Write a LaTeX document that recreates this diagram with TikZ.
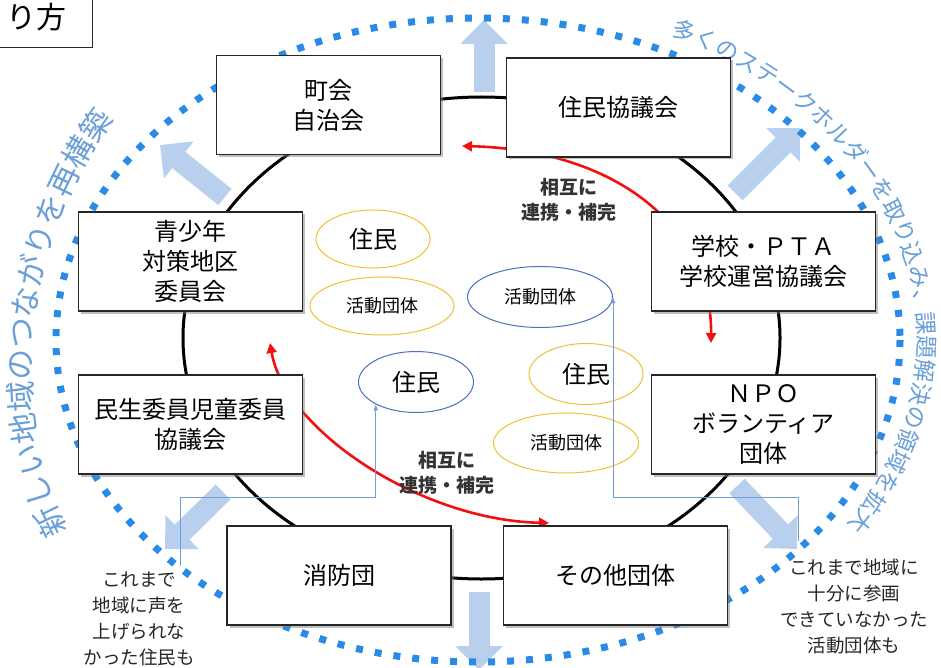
\documentclass[tikz,border=0pt]{standalone}
\usepackage{fontspec}
\setmainfont{Noto Sans CJK JP}
\usetikzlibrary{arrows.meta,shapes.geometric,shadows,decorations.text}

\definecolor{dotblue}{HTML}{2A8BE6}
\definecolor{ringtext}{HTML}{6A9FD8}
\definecolor{arrowblue}{HTML}{B9CFEE}
\definecolor{linkblue}{HTML}{6D9EDB}
\definecolor{ovalblue}{HTML}{4A72C0}
\definecolor{ovalgold}{HTML}{F0C030}
\definecolor{redline}{HTML}{F01010}

\newcommand\ringfontbig{\color{ringtext}\fontsize{31}{31}\selectfont}
\newcommand\ringfontsmall{\color{ringtext}\fontsize{23}{23}\selectfont}

\begin{document}
\begin{tikzpicture}[x=1pt, y=-1pt,
        orgbox/.style={draw=black!85, line width=1.3pt, fill=white, minimum width=224pt, minimum height=99pt, align=center, font=\fontsize{24}{30}\selectfont, drop shadow={shadow xshift=2.5pt, shadow yshift=-2.5pt, fill=black!50, opacity=0.5}},
        goldoval/.style={ellipse, draw=ovalgold, line width=1pt, inner sep=0pt},
        blueoval/.style={ellipse, draw=ovalblue, line width=1pt, inner sep=0pt},
        widearrow/.style={draw=arrowblue, line width=21pt, >={Triangle[length=24pt,width=46pt]}, ->},
        dotring/.style={draw=dotblue, line width=7pt, dash pattern=on 7pt off 12pt},
        mutual/.style={draw=redline, line width=2.6pt, >={Triangle[length=10pt,width=10pt]}, <->},
        feed/.style={draw=linkblue, line width=1pt, >={Latex[length=6pt,width=5pt]}, ->},
        relabel/.style={align=center, text=black!80, font=\bfseries\fontsize{19}{25}\selectfont},
        note/.style={align=center, text=black!85, font=\fontsize{18.5}{26}\selectfont}]

            \useasboundingbox (0, 0) rectangle (941, 668);

            \coordinate (HUB) at (481.5, 338);
            \coordinate (RING) at (478, 340);

            \coordinate (TOPTAIL) at (484, 92);
            \coordinate (TOPTIP) at (484, 20);
            \coordinate (BOTTAIL) at (479, 592);
            \coordinate (BOTTIP) at (479, 670);
            \coordinate (ULTAIL) at (225, 197);
            \coordinate (ULTIP) at (160, 145);
            \coordinate (URTAIL) at (735, 193);
            \coordinate (URTIP) at (800, 128);
            \coordinate (LLTAIL) at (223, 492);
            \coordinate (LLTIP) at (165, 549);
            \coordinate (LRTAIL) at (737, 486);
            \coordinate (LRTIP) at (797, 549);

            \draw[widearrow] (TOPTAIL) -- (TOPTIP);
            \draw[widearrow] (BOTTAIL) -- (BOTTIP);
            \draw[widearrow] (ULTAIL) -- (ULTIP);
            \draw[widearrow] (URTAIL) -- (URTIP);
            \draw[widearrow] (LLTAIL) -- (LLTIP);
            \draw[widearrow] (LRTAIL) -- (LRTIP);

            \draw[dotring] (RING) ellipse [x radius=422, y radius=322];

            \path[decorate, decoration={text along path, text={|\ringfontbig|新しい地域のつながりを再構築}}]
                (68, 530) .. controls (14, 440) and (8, 235) .. (135, 95);
            \path[decorate, decoration={text along path, text={|\ringfontsmall|多くのステークホルダーを取り込み、課題解決の領域を拡大}}]
                plot[domain=-64:40, samples=80, variable=\t] ({478+440*cos(\t)}, {340+340*sin(\t)});

            \draw[line width=3pt] (HUB) ellipse [x radius=298.5, y radius=241];

            \coordinate (R1) at (462, 146);
            \coordinate (R2) at (711, 343);
            \coordinate (R3) at (270, 343);
            \coordinate (R4) at (549, 523);

            \draw[mutual] (R1) .. controls (620, 150) and (712, 230) .. (R2);
            \draw[mutual] (R3) .. controls (285, 430) and (420, 520) .. (R4);

            \node[goldoval, minimum width=114pt, minimum height=58pt, font=\fontsize{24}{24}\selectfont] (J1) at (373, 239) {住民};
            \node[goldoval, minimum width=144pt, minimum height=58pt, font=\fontsize{18}{18}\selectfont] (K1) at (382, 306) {活動団体};
            \node[blueoval, minimum width=145pt, minimum height=61pt, font=\fontsize{18}{18}\selectfont] (K2) at (540, 297) {活動団体};
            \node[blueoval, minimum width=115pt, minimum height=61pt, font=\fontsize{24}{24}\selectfont] (J2) at (416, 382) {住民};
            \node[goldoval, minimum width=114pt, minimum height=61pt, font=\fontsize{24}{24}\selectfont] (J3) at (586, 374) {住民};
            \node[goldoval, minimum width=145pt, minimum height=60pt, font=\fontsize{18}{18}\selectfont] (K3) at (566, 443) {活動団体};

            \node[note] (LNOTE) at (139, 619) {これまで\\地域に声を\\上げられな\\かった住民も};
            \node[note] (RNOTE) at (854, 607) {これまで地域に\\十分に参画\\できていなかった\\活動団体も};

            \coordinate (LFOOT) at (180, 566);
            \coordinate (LBEND) at (180, 497);
            \coordinate (RFOOT) at (798, 541);
            \coordinate (RBEND) at (798, 497);

            \draw[feed] (LFOOT) -- (LBEND) -| (J2.209);
            \draw[feed] (RFOOT) -- (RBEND) -| (K2.east);

            \node[orgbox] (CHOKAI) at (328.5, 105) {町会\\自治会};
            \node[orgbox] (JUMINKYO) at (618.5, 107.5) {住民協議会};
            \node[orgbox] (SEISHONEN) at (190.5, 261.5) {青少年\\対策地区\\委員会};
            \node[orgbox] (GAKKO) at (763.5, 261.5) {学校・ＰＴＡ\\学校運営協議会};
            \node[orgbox] (MINSEI) at (190.5, 424.5) {民生委員児童委員\\協議会};
            \node[orgbox] (NPO) at (763.5, 424.5) {ＮＰＯ\\ボランティア\\団体};
            \node[orgbox] (SHOBO) at (339, 575.5) {消防団};
            \node[orgbox] (SONOTA) at (615.5, 575.5) {その他団体};

            \node[relabel] (LINKUP) at (569, 200) {相互に\\連携・補完};
            \node[relabel] (LINKDOWN) at (447, 473) {相互に\\連携・補完};

            \node[draw=black!85, line width=1.3pt, fill=white, anchor=south east, text width=140pt, align=right, inner xsep=26pt, minimum height=60pt, font=\fontsize{30}{30}\selectfont] (TITLE) at (93, 48) {り方};

        \end{tikzpicture}
\end{document}
